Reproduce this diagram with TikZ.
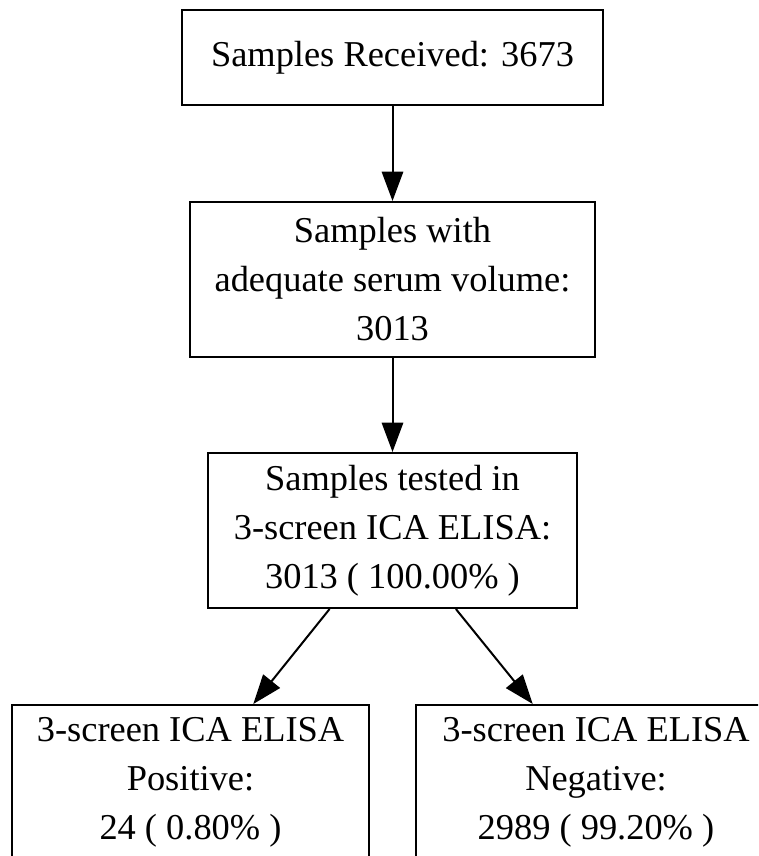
\documentclass[tikz,border=0pt]{standalone}
\usepackage{fontspec}
\setmainfont{Liberation Serif}
\usetikzlibrary{arrows.meta}
\begin{document}
\begin{tikzpicture}[x=0.75pt,y=-0.75pt,
  box/.style={draw=black,line width=1.5pt,rectangle,inner sep=0pt,align=center,
    font=\fontsize{27.3}{36.75}\selectfont},
  conn/.style={line width=1.5pt,-{Triangle[length=22pt,width=16pt]}}]
\useasboundingbox (0,0) rectangle (758,856);
\clip (0,0) rectangle (758,856);
\fill[white] (0,0) rectangle (758,856);
\node[box,minimum width=421*0.75pt,minimum height=95*0.75pt] (b1) at (392.5,57.5) {Samples Received: 3673};
\node[box,minimum width=405*0.75pt,minimum height=155*0.75pt] (b2) at (392.5,279.5) {Samples with\\adequate serum volume:\\3013};
\node[box,minimum width=369*0.75pt,minimum height=155*0.75pt] (b3) at (392.5,530.5) {Samples tested in\\3-screen ICA ELISA:\\3013 ( 100.00\% )};
\node[box,minimum width=357*0.75pt,minimum height=155*0.75pt] (b4) at (190.5,782.5) {3-screen ICA ELISA\\Positive:\\24 ( 0.80\% )};
\node[box,minimum width=360*0.75pt,minimum height=155*0.75pt] (b5) at (596,782.5) {3-screen ICA ELISA\\Negative:\\2989 ( 99.20\% )};
\draw[conn] (b1) -- (b2);
\draw[conn] (b2) -- (b3);
\draw[conn] (b3) -- (b4);
\draw[conn] (b3) -- (b5);
\end{tikzpicture}
\end{document}
